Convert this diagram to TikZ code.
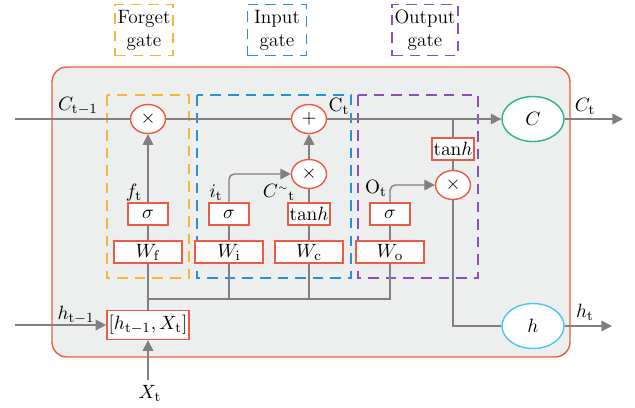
\documentclass[tikz,border=0pt]{standalone}
\usepackage{amsmath}
\usepackage{xcolor}
\usetikzlibrary{arrows.meta,shapes.geometric}

\definecolor{boxred}{HTML}{EB5A45}
\definecolor{cellgray}{HTML}{EDEEEE}
\definecolor{linegray}{HTML}{808080}
\definecolor{fgate}{HTML}{F5B73B}
\definecolor{igate}{HTML}{2F8FD5}
\definecolor{ogate}{HTML}{8E50B4}
\definecolor{cgreen}{HTML}{2EB67D}
\definecolor{hblue}{HTML}{4CC6F0}

\tikzset{
  opbox/.style={draw=boxred, fill=white, line width=0.8pt, inner sep=1pt, minimum height=0.44cm},
  wbox/.style={opbox, minimum width=1.36cm},
  sbox/.style={opbox, minimum width=0.8cm},
  opcirc/.style={draw=boxred, fill=white, line width=0.8pt, ellipse, minimum width=0.7cm, minimum height=0.58cm, inner sep=0pt},
  statenode/.style={ellipse, fill=white, line width=0.8pt, minimum width=1.24cm, minimum height=0.9cm},
  flow/.style={draw=linegray, line width=0.8pt},
  flowarr/.style={flow, -{Triangle[length=6pt,width=6pt]}},
  gatebox/.style={line width=0.8pt, dash pattern=on 6pt off 4pt},
  lbl/.style={inner sep=1pt},
}

\begin{document}
\begin{tikzpicture}[x=0.02cm,y=-0.02cm,font=\fontsize{11}{13}\selectfont]
\useasboundingbox (0,0) rectangle (635,407);

% gate captions
\node[draw=fgate, gatebox, minimum width=1.16cm, minimum height=1.02cm, align=center, inner sep=0pt] (flab) at (144,30) {Forget\\gate};
\node[draw=igate, gatebox, minimum width=1.18cm, minimum height=1.02cm, align=center, inner sep=0pt] (ilab) at (277,30) {Input\\gate};
\node[draw=ogate, gatebox, minimum width=1.32cm, minimum height=1.02cm, align=center, inner sep=0pt] (olab) at (425,30) {Output\\gate};

% cell
\draw[boxred, fill=cellgray, line width=0.8pt, rounded corners=0.3cm] (52,67) rectangle (570,357);
\draw[fgate, gatebox] (107,95) rectangle (189,278);
\draw[igate, gatebox] (197,95) rectangle (351,278);
\draw[ogate, gatebox] (358,95) rectangle (478,278);

% operations
\node[opcirc] (fmul) at (148,119) {$\times$};
\node[opcirc] (cadd) at (309,119) {$+$};
\node[opcirc] (imul) at (309,174) {$\times$};
\node[opcirc] (omul) at (453,185) {$\times$};
\node[sbox] (fsig) at (148,214) {$\sigma$};
\node[sbox] (isig) at (229,214) {$\sigma$};
\node[sbox] (ctanh) at (309,214) {$\mathrm{tan}h$};
\node[sbox] (osig) at (390,214) {$\sigma$};
\node[sbox] (otanh) at (453,149) {$\mathrm{tan}h$};
\node[wbox] (wf) at (148,252) {$W_{\mathrm{f}}$};
\node[wbox] (wi) at (229,252) {$W_{\mathrm{i}}$};
\node[wbox] (wc) at (309,252) {$W_{\mathrm{c}}$};
\node[wbox] (wo) at (390,252) {$W_{\mathrm{o}}$};
\node[opbox, minimum width=1.64cm, minimum height=0.58cm] (hx) at (148,325) {$[h_{\mathrm{t}-1}, X_{\mathrm{t}}]$};
\node[statenode, draw=cgreen] (cnode) at (533,119) {$C$};
\node[statenode, draw=hblue] (hnode) at (533,326) {$h$};

% free ends and junctions
\coordinate (cin) at (15,119);
\coordinate (cout) at (623,119);
\coordinate (hin) at (15,325);
\coordinate (hout) at (612,326);
\coordinate (xin) at (148,380);
\coordinate (bus) at (148,299);
\coordinate (ojoin) at (453,119);

% cell state line
\draw[flow] (cin) -- (fmul);
\draw[flow] (fmul) -- (cadd);
\draw[flowarr] (cadd) -- (cnode);
\draw[flowarr] (cnode) -- (cout);

% forget gate
\draw[flow] (wf) -- (fsig);
\draw[flowarr] (fsig) -- (fmul);

% input gate
\draw[flow] (wi) -- (isig);
\draw[flow] (wc) -- (ctanh);
\draw[flowarr, rounded corners=3pt] (isig.north) |- (imul);
\draw[flow] (ctanh) -- (imul);
\draw[flowarr] (imul) -- (cadd);

% output gate
\draw[flow] (wo) -- (osig);
\draw[flow] (ojoin) -- (otanh);
\draw[flow] (otanh) -- (omul);
\draw[flowarr, rounded corners=3pt] (osig.north) |- (omul);
\draw[flow] (omul) |- (hnode);
\draw[flowarr] (hnode) -- (hout);

% inputs
\draw[flow] (hx) -- (wf);
\draw[flow] (bus) -| (wo);
\draw[flow] (wi) -- (wi |- bus);
\draw[flow] (wc) -- (wc |- bus);
\draw[flowarr] (hin) -- (hx);
\draw[flowarr] (xin) -- (hx);

% labels
\node[lbl] (lcin) at (78,106) {$C_{\mathrm{t}-1}$};
\node[lbl] (lhin) at (76,315) {$h_{\mathrm{t}-1}$};
\node[lbl] (lxin) at (150,393) {$X_{\mathrm{t}}$};
\node[lbl] (lf) at (134,193) {$f_{\mathrm{t}}$};
\node[lbl] (li) at (216,193) {$i_{\mathrm{t}}$};
\node[lbl] (lc) at (279,192) {${C^{\scriptscriptstyle\sim}}_{\mathrm{t}}$};
\node[lbl] (lcadd) at (339,106) {$\mathrm{C}_{\mathrm{t}}$};
\node[lbl] (lo) at (376,188) {$\mathrm{O}_{\mathrm{t}}$};
\node[lbl] (lcout) at (585,106) {$C_{\mathrm{t}}$};
\node[lbl] (lhout) at (585,312) {$h_{\mathrm{t}}$};
\end{tikzpicture}
\end{document}
